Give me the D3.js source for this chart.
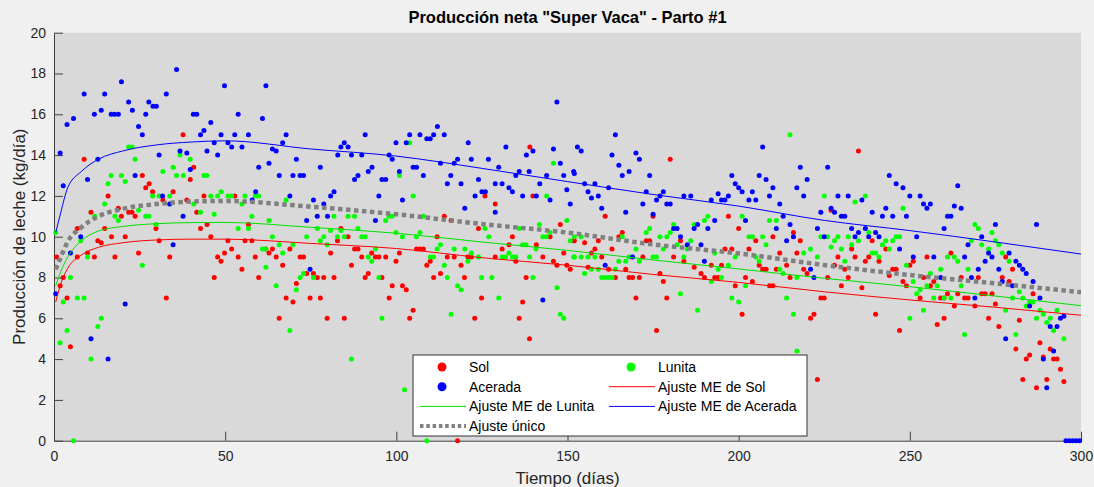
<!DOCTYPE html>
<html>
<head>
<meta charset="utf-8">
<script src="https://cdn.jsdelivr.net/npm/d3@7"></script>
<style>
  body { margin: 0; background: #f0f0f0; }
  svg { display: block; font-family: "Liberation Sans", Arial, sans-serif; }
</style>
</head>
<body>
<div id="chart"></div>
<script>
const solData = [
  [37.7,15.0],[8.8,13.8],[40.8,13.4],[39.8,12.8],[25.8,13.0],[27.8,12.6],[26.8,12.4],[28.8,12.2],[34.8,12.2],[15.8,12.0],[43.8,12.0],[31.8,11.8],[38.8,11.8],[10.8,11.2],[18.8,11.4],[21.8,11.2],[22.8,11.2],[41.7,11.2],[19.7,11.0],[23.7,11.0],[44.7,10.6],[14.8,10.4],[29.8,10.4],[42.8,10.4],[6.8,10.4],[12.8,9.8],[13.8,9.7],[16.8,10.0],[20.8,10.0],[30.7,9.8],[45.8,10.0],[50.8,9.8],[0.8,9.0],[6.8,9.0],[9.8,9.2],[11.8,9.0],[17.8,9.0],[24.7,9.2],[33.8,9.0],[47.8,9.0],[49.8,9.2],[48.8,8.8],[2.7,8.0],[1.8,7.6],[46.8,8.0],[3.8,7.0],[32.8,7.0],[4.8,4.6],
  [52.8,12.0],[51.9,9.4],[55.8,9.8],[57.8,9.8],[53.8,9.0],[54.9,8.4],[58.8,9.0],[59.8,8.0],[56.8,10.6],[61.9,9.4],[62.8,9.2],[63.8,9.4],[64.9,9.0],[66.8,8.6],[68.9,9.4],[65.8,6.0],[67.8,7.0],[69.8,6.8],[70.8,7.7],[71.9,9.0],[72.9,9.0],[73.8,8.2],[75.8,8.2],[76.9,8.0],[78.8,8.0],[74.8,7.0],[77.8,7.0],[79.8,6.0],[80.8,9.2],[81.8,8.0],[82.8,9.8],[83.8,10.4],[85.9,10.0],[84.8,6.0],[86.9,8.6],[87.8,9.4],[88.8,9.4],[89.9,9.0],[90.9,8.0],[91.8,8.2],[92.8,9.2],[93.9,9.0],[94.9,9.0],[95.8,8.0],[96.9,9.0],[97.9,7.0],[98.8,7.6],[99.9,8.8],[100.9,9.2],[101.8,7.6],
  [139.0,14.4],[125.9,12.0],[128.9,11.6],[139.9,12.0],[114.0,11.0],[116.0,10.8],[124.0,10.4],[105.9,9.4],[106.9,9.4],[107.9,9.4],[111.9,10.0],[108.9,8.6],[109.9,8.8],[114.9,9.0],[116.9,9.0],[118.9,8.6],[120.9,9.0],[121.9,9.0],[110.9,8.0],[112.9,8.2],[119.9,8.0],[124.9,7.0],[122.9,6.0],[128.9,9.0],[130.9,9.4],[132.9,9.6],[133.9,10.0],[134.9,8.8],[135.9,6.0],[136.9,6.8],[137.9,8.0],[138.9,5.0],[140.9,9.6],[142.8,9.0],[144.9,10.0],[145.9,8.8],[146.9,8.6],[147.9,10.6],[148.9,9.2],[149.8,8.6],[150.8,8.4],[151.8,9.8],[102.9,7.4],[104.9,6.4],[103.9,6.0],[117.9,0.0],
  [180,13.8],[161,11.0],[175,11.0],[197,11.0],[200,10.4],[165,10.0],[166,10.2],[152,9.8],[155,9.7],[159,9.8],[158,9.4],[173,9.8],[174,9.8],[163,9.4],[183,9.8],[157,9.2],[160,9.0],[172,9.0],[181,9.0],[184,8.8],[187,8.5],[189,8.2],[190,8.0],[192,8.6],[193,8.0],[194,8.0],[195,8.6],[196,9.4],[198,9.4],[199,7.6],[202,8.0],[203,9.4],[204,7.8],[156,8.5],[162,8.4],[164,8.0],[167,8.4],[168,8.0],[169,8.0],[171,8.0],[177,8.2],[178,7.8],[170,7.0],[179,7.0],[176,5.4],[201,6.2],
  [235,14.2],[227,11.3],[205,9.8],[210,10.0],[216,10.2],[218,9.8],[206,8.6],[207,8.4],[208,8.4],[209,7.6],[210,7.6],[211,8.4],[212,9.2],[214,8.6],[215,8.0],[217,9.2],[219,8.4],[220,8.2],[221,6.0],[222,6.2],[224,7.0],[225,7.0],[226,8.0],[223,3.0],[229,9.0],[228,8.6],[231,8.4],[232,8.0],[230,7.6],[233,9.4],[234,9.0],[236,7.5],[237,8.8],[238,9.0],[239,9.8],[240,6.2],[241,8.8],[243,9.4],[244,8.1],[245,8.4],[246,8.4],[247,5.4],[248,7.8],[249,7.6],[250,8.6],[251,8.8],[253,7.0],[255,9.0],
  [254,8.0],[256,7.6],[257,7.8],[259,7.0],[260,7.0],[258,5.7],[260,6.0],[261,7.2],[262,9.2],[263,6.6],[264,7.2],[265,8.0],[266,7.0],[267,7.0],[269,6.6],[270,8.0],[271,7.2],[272,7.2],[274,7.2],[273,6.0],[275,6.7],[276,5.6],[277,8.0],[278,9.0],[279,7.8],[280,8.4],[281,4.5],[282,5.9],[283,3.0],[284,4.0],[285,4.2],[286,7.2],[287,2.6],[288,4.8],[289,4.1],[290,3.0],[291,4.5],[292,4.0],[293,4.0],[294,3.5],[295,2.9]
];

const lunitaData = [
  [21.8,14.4],[22.8,14.4],[23.7,13.8],[36.8,14.0],[39.8,13.8],[34.8,13.4],[31.8,13.2],[16.7,13.0],[19.7,13.0],[35.8,13.0],[37.8,13.0],[43.8,13.0],[44.7,13.0],[20.8,12.7],[15.8,12.6],[28.8,12.0],[30.7,12.0],[33.8,12.0],[45.8,12.0],[47.8,12.0],[48.8,12.2],[50.8,12.0],[14.8,11.6],[40.8,11.6],[24.7,11.3],[11.9,11.0],[17.8,11.0],[26.8,11.0],[27.7,11.0],[42.8,11.2],[46.8,11.1],[18.8,10.8],[29.8,10.6],[7.8,9.8],[9.8,9.0],[25.8,8.6],[4.8,8.0],[2.7,6.8],[6.8,7.0],[8.8,7.0],[13.8,6.0],[12.8,5.6],[3.8,5.4],[1.8,4.8],[10.8,4.0],[5.7,0.0],[0.5,10.2],
  [51.9,12.0],[55.8,12.0],[58.8,12.0],[59.8,12.0],[54.9,11.6],[67.8,11.8],[57.8,11.0],[53.8,10.4],[56.8,10.4],[62.8,10.8],[63.8,10.0],[65.8,9.6],[69.8,9.6],[60.9,9.4],[61.9,9.4],[66.8,9.2],[61.9,8.5],[64.9,7.6],[68.9,5.4],[73.8,10.0],[76.9,10.4],[78.8,10.0],[77.8,9.8],[80.8,10.3],[81.8,11.0],[83.8,10.3],[82.8,10.0],[84.8,10.0],[79.8,9.6],[85.9,11.0],[87.8,11.0],[88.8,10.4],[89.9,10.0],[90.9,10.0],[71.9,8.0],[72.9,8.2],[70.8,7.4],[75.8,8.0],[86.9,4.0],[91.8,9.0],[92.8,8.8],[93.9,9.4],[94.9,8.0],[95.8,6.0],[96.9,10.8],[97.9,11.0],[98.8,11.0],[99.9,10.2],[100.9,13.0],[101.8,10.0],[102.4,2.5],
  [103.9,14.6],[145.9,13.6],[104.9,12.0],[143.9,12.0],[107.9,11.0],[105.9,10.0],[106.9,10.2],[112.9,9.6],[111.9,9.4],[109.9,9.0],[110.9,9.0],[114.0,8.6],[114.9,8.0],[116.9,9.4],[117.9,7.6],[118.9,7.4],[120.0,9.4],[120.9,8.8],[121.9,9.2],[124.0,9.0],[124.9,8.0],[127.9,8.0],[125.9,10.4],[127.0,10.0],[129.9,7.0],[130.9,9.0],[131.9,9.0],[132.9,9.2],[133.9,9.0],[134.9,9.0],[135.9,10.4],[136.9,9.6],[137.9,9.6],[138.9,9.0],[139.9,8.0],[140.8,9.4],[141.8,10.6],[142.8,10.0],[143.8,10.0],[144.9,10.2],[146.9,7.5],[147.9,6.2],[148.9,6.0],[149.8,10.8],[150.8,9.8],[151.8,9.0],[116.0,6.2],[108.9,0.0],
  [152,10.0],[154,10.0],[152,9.0],[156,9.0],[158,9.0],[154,9.0],[155,8.2],[157,8.4],[159,8.4],[160,8.0],[161,8.0],[162,8.0],[163,8.0],[164,8.4],[165,8.8],[167,8.8],[168,9.0],[166,10.0],[170,9.4],[171,8.8],[173,10.2],[174,10.4],[175,9.0],[176,9.0],[177,10.0],[178,9.4],[179,10.0],[180,10.2],[181,10.6],[182,9.6],[183,7.2],[184,9.0],[185,9.4],[186,9.8],[187,10.6],[188,6.4],[190,10.8],[191,11.0],[192,7.8],[193,9.2],[194,8.4],[195,8.0],[197,8.6],[198,7.0],[199,9.0],[200,6.8],[201,11.0],[202,7.6],[204,10.0],
  [215,15.0],[225,12.0],[237,12.0],[234,11.7],[248,11.4],[209,10.8],[211,10.8],[203,10.0],[207,10.0],[208,9.6],[205,9.0],[206,8.8],[212,8.4],[213,8.2],[214,7.0],[216,6.2],[217,8.0],[219,9.2],[221,9.4],[223,9.0],[224,10.0],[226,10.0],[227,9.5],[228,9.8],[229,10.0],[230,9.4],[231,8.8],[232,10.0],[233,9.6],[235,9.8],[238,10.2],[239,9.2],[240,9.2],[241,9.0],[242,9.6],[243,9.8],[244,9.4],[245,9.8],[246,10.0],[247,10.0],[249,8.6],[250,6.0],[251,7.8],[252,7.2],[253,7.4],[254,6.4],[255,7.6],[217,4.4],
  [256,8.2],[258,7.6],[257,7.0],[259,8.4],[260,7.0],[261,9.0],[263,9.0],[264,8.8],[262,7.0],[265,7.6],[266,5.2],[267,8.4],[268,9.8],[269,10.6],[270,10.4],[271,9.6],[273,9.4],[274,10.2],[275,9.8],[276,9.6],[277,9.2],[279,8.8],[278,6.4],[280,7.0],[281,5.2],[282,7.3],[283,7.0],[284,6.6],[285,6.8],[286,6.8],[287,6.0],[288,6.4],[289,6.2],[290,5.8],[291,6.0],[292,5.4],[293,6.4],[295,5.0]
];

const aceradaData = [
  [35.8,18.2],[19.7,17.6],[8.8,17.0],[14.8,17.0],[49.8,17.4],[32.8,17.0],[21.8,16.6],[27.7,16.6],[28.9,16.4],[29.9,16.4],[22.9,16.2],[13.8,16.2],[11.8,16.0],[16.7,16.0],[17.7,16.0],[18.8,16.0],[26.8,16.0],[40.7,16.0],[41.7,16.0],[5.7,15.8],[3.8,15.5],[45.8,15.6],[24.7,15.4],[43.8,15.2],[42.8,15.0],[48.8,15.0],[25.8,15.0],[46.8,14.6],[50.8,14.6],[1.8,14.1],[36.8,14.2],[38.8,14.1],[44.7,14.2],[47.8,14.0],[30.7,14.0],[12.8,13.8],[39.8,13.3],[23.7,13.0],[2.7,12.5],[9.8,12.8],[31.7,12.0],[33.8,11.6],[37.7,11.0],[7.8,10.0],[4.8,9.2],[34.8,9.6],[0.5,7.2],[20.8,6.7],[10.8,5.0],[15.8,4.0],
  [61.9,17.4],[53.8,16.0],[60.9,15.8],[52.8,15.0],[56.8,15.0],[67.8,15.0],[51.9,14.4],[54.9,14.4],[63.8,14.3],[64.9,14.2],[66.8,14.6],[70.8,13.8],[62.8,13.6],[59.8,13.4],[65.8,13.0],[69.8,13.0],[71.9,13.0],[72.9,13.0],[77.8,13.4],[84.8,14.6],[83.8,14.4],[85.9,14.4],[82.9,14.0],[86.9,14.0],[89.9,14.0],[90.9,15.0],[92.9,13.4],[91.8,13.2],[88.8,13.0],[87.8,12.8],[95.8,12.8],[96.9,12.8],[97.9,14.0],[98.8,13.8],[99.9,14.6],[100.9,13.2],[81.8,12.2],[80.8,12.0],[78.8,11.6],[75.8,11.8],[68.9,12.0],[58.9,12.2],[57.9,11.8],[94.9,12.0],[101.8,11.8],[76.9,11.0],[79.9,11.0],[73.8,10.8],[93.9,10.8],[74.8,8.4],
  [102.9,14.6],[103.9,15.0],[106.9,15.0],[108.9,14.8],[109.9,14.8],[110.9,15.0],[112.0,15.4],[114.0,15.0],[121.0,14.6],[132.0,14.4],[138.0,14.0],[139.9,14.2],[145.9,14.3],[146.9,16.6],[152.9,14.4],[104.9,13.4],[105.9,13.4],[107.9,13.0],[112.9,13.6],[116.9,13.6],[117.9,13.8],[115.9,13.0],[114.9,12.6],[118.9,12.6],[121.9,13.8],[124.0,12.8],[126.9,13.8],[129.9,13.4],[128.9,12.6],[130.9,12.6],[132.9,12.4],[133.9,12.2],[134.9,13.0],[135.9,13.2],[138.8,13.2],[141.9,12.6],[143.9,13.0],[147.9,13.6],[148.9,13.0],[151.8,13.2],[149.8,12.3],[123,12.0],[125,12.2],[126,12.2],[120.0,11.4],[128.9,11.2],[136.9,12.0],[140.9,12.0],[144.9,11.8],[150.8,11.6],[142.8,6.9],
  [152,13.1],[154,14.2],[164,15.0],[163,14.0],[165,13.5],[166,13.0],[168,13.2],[170,14.1],[171,13.8],[174,13.0],[155,12.6],[158,12.6],[156,12.2],[157,11.9],[159,12.0],[162,12.4],[160,11.4],[167,11.2],[172,11.6],[173,12.2],[175,11.1],[176,11.8],[177,12.0],[178,12.2],[179,11.6],[180,11.6],[181,10.4],[182,10.4],[183,10.0],[184,12.0],[186,12.0],[185,9.6],[187,10.4],[188,10.6],[189,9.6],[190,8.8],[191,10.4],[192,11.8],[193,10.8],[194,12.1],[195,11.8],[196,11.8],[197,12.0],[198,13.0],[199,12.6],[200,12.4],[201,12.2],[202,10.8],[204,12.2],[161,8.6],[169,9.0],
  [203,11.8],[205,11.8],[207,14.4],[206,13.0],[208,12.8],[209,12.0],[210,12.4],[212,11.6],[213,11.0],[211,10.4],[214,9.8],[215,10.6],[216,10.0],[217,12.4],[218,13.4],[219,12.0],[220,12.8],[221,8.4],[222,8.0],[223,10.4],[224,11.2],[225,10.0],[226,13.4],[227,11.4],[228,11.2],[229,12.0],[230,11.0],[231,11.0],[232,12.0],[233,10.4],[234,10.0],[235,10.2],[236,11.8],[237,10.4],[238,10.0],[239,11.2],[240,10.2],[241,10.0],[242,11.0],[243,11.4],[244,13.0],[245,11.0],[246,12.6],[247,9.4],[248,12.4],[249,11.0],[250,12.0],[252,10.0],[251,9.0],[253,12.0],[254,11.6],[255,11.4],
  [264,12.5],[256,11.6],[261,11.0],[262,11.0],[263,11.5],[265,11.4],[260,10.4],[257,9.0],[259,8.0],[266,9.0],[267,9.6],[271,10.0],[275,10.6],[287,10.6],[268,8.0],[270,8.4],[272,8.8],[273,9.2],[274,9.0],[276,8.4],[277,7.8],[279,9.2],[280,7.6],[281,8.8],[282,8.6],[283,8.4],[284,8.2],[285,6.6],[286,7.8],[288,7.0],[269,7.0],[278,5.0],[291,5.6],[293,5.6],[292,4.4],[289,4.0],[290,2.6],[294,6.0],[295,6.1],[295.6,0],[296.6,0],[297.6,0],[298.6,0],[299.6,0]
];

const fitDays     = [0.5, 2, 4, 8, 13, 20, 30, 40, 50, 75, 100, 125, 150, 175, 200, 225, 250, 275, 300];
const fitSol      = [6.8, 7.7, 8.45, 9.1, 9.48, 9.7, 9.84, 9.88, 9.88, 9.67, 9.42, 8.97, 8.6, 8.15, 7.76, 7.3, 6.9, 6.54, 6.15];
const fitLunita   = [7.6, 8.3, 9.0, 9.8, 10.28, 10.5, 10.64, 10.69, 10.7, 10.46, 10.17, 9.74, 9.33, 8.86, 8.42, 7.96, 7.55, 7.09, 6.62];
const fitAcerada  = [10.2, 11.2, 12.4, 13.2, 13.8, 14.2, 14.5, 14.64, 14.7, 14.3, 13.95, 13.35, 12.7, 12.07, 11.5, 10.8, 10.3, 9.74, 9.15];
const fitUnico    = [8.4, 9.0, 9.75, 10.46, 11.0, 11.36, 11.6, 11.72, 11.75, 11.47, 11.1, 10.62, 10.2, 9.62, 9.18, 8.61, 8.12, 7.71, 7.28];

const xTicks = [0, 50, 100, 150, 200, 250, 300];
const yTicks = [0, 2, 4, 6, 8, 10, 12, 14, 16, 18, 20];

const width = 1094, height = 487;
const plot = { left: 54, right: 1081, top: 32.7, bottom: 440.7 };

const xScale = d3.scaleLinear().domain([0, 300]).range([plot.left, plot.right]);
const yScale = d3.scaleLinear().domain([0, 20]).range([plot.bottom, plot.top]);

const svg = d3.select("#chart").append("svg")
  .attr("width", width).attr("height", height);

svg.append("rect").attr("width", width).attr("height", height).attr("fill", "#f0f0f0");
svg.append("rect")
  .attr("x", plot.left).attr("y", plot.top)
  .attr("width", plot.right - plot.left).attr("height", plot.bottom - plot.top)
  .attr("fill", "#d9d9d9");

// ejes (ticks hacia dentro, estilo MATLAB)
const bottomAxis = d3.axisBottom(xScale).tickValues(xTicks).tickSize(-9).tickPadding(10).tickSizeOuter(0);
const leftAxis = d3.axisLeft(yScale).tickValues(yTicks).tickSize(-9).tickPadding(16).tickSizeOuter(0);

const gx = svg.append("g").attr("transform", `translate(0, ${plot.bottom})`).call(bottomAxis);
const gy = svg.append("g").attr("transform", `translate(${plot.left}, 0)`).call(leftAxis);
[gx, gy].forEach(g => {
  g.selectAll("path, line").attr("stroke", "#404040");
  g.selectAll("text").attr("fill", "#262626").attr("font-size", 14)
    .attr("font-family", "Liberation Sans, Arial, sans-serif");
});
gy.selectAll("text").attr("dx", "8");

// puntos
const series = [
  { data: solData, color: "#ff0000" },
  { data: lunitaData, color: "#00ff00" },
  { data: aceradaData, color: "#0000ff" }
];
series.forEach(s => {
  svg.append("g").selectAll("circle")
    .data(s.data)
    .join("circle")
    .attr("cx", d => xScale(d[0]))
    .attr("cy", d => yScale(d[1]))
    .attr("r", 2.5)
    .attr("fill", s.color);
});

// curvas de ajuste
const line = d3.line()
  .x(d => xScale(d[0]))
  .y(d => yScale(d[1]))
  .curve(d3.curveMonotoneX);

const fits = [
  { vals: fitSol, color: "#ff0000", w: 1, dash: null },
  { vals: fitLunita, color: "#00e000", w: 1, dash: null },
  { vals: fitAcerada, color: "#0000ff", w: 1, dash: null },
  { vals: fitUnico, color: "#808080", w: 4.5, dash: "4.5,3.5" }
];
fits.forEach(f => {
  svg.append("path")
    .datum(fitDays.map((t, i) => [t, f.vals[i]]))
    .attr("d", line)
    .attr("fill", "none")
    .attr("stroke", f.color)
    .attr("stroke-width", f.w)
    .attr("stroke-dasharray", f.dash);
});

// leyenda
const legendItems = [
  { label: "Sol", type: "dot", color: "#ff0000" },
  { label: "Lunita", type: "dot", color: "#00ff00" },
  { label: "Acerada", type: "dot", color: "#0000ff" },
  { label: "Ajuste ME de Sol", type: "line", color: "#ff0000" },
  { label: "Ajuste ME de Lunita", type: "line", color: "#00e000" },
  { label: "Ajuste ME de Acerada", type: "line", color: "#0000ff" },
  { label: "Ajuste único", type: "dots", color: "#808080" }
];
const legend = svg.append("g").attr("transform", "translate(413, 355)");
legend.append("rect").attr("width", 394).attr("height", 81)
  .attr("fill", "#ffffff").attr("stroke", "#333").attr("stroke-width", 1);
legendItems.forEach((it, i) => {
  const col = i % 2, row = Math.floor(i / 2);
  const g = legend.append("g").attr("transform", `translate(${col * 189}, ${12 + row * 19.7})`);
  if (it.type === "dot") {
    g.append("circle").attr("cx", 29).attr("cy", 0).attr("r", 4.5).attr("fill", it.color);
  } else {
    g.append("line").attr("x1", 7).attr("x2", 53).attr("y1", 0).attr("y2", 0)
      .attr("stroke", it.color)
      .attr("stroke-width", it.type === "dots" ? 4 : 1)
      .attr("stroke-dasharray", it.type === "dots" ? "3.5,2.8" : null);
  }
  g.append("text").attr("x", 56).attr("y", 0).attr("dy", "0.36em")
    .attr("font-size", 14).attr("fill", "#000").text(it.label);
});

// títulos
svg.append("text").attr("x", (plot.left + plot.right) / 2).attr("y", 23)
  .attr("text-anchor", "middle").attr("font-size", 16.5).attr("font-weight", "bold")
  .attr("fill", "#000").text('Producción neta "Super Vaca" - Parto #1');
svg.append("text").attr("x", (plot.left + plot.right) / 2).attr("y", 484)
  .attr("text-anchor", "middle").attr("font-size", 17).attr("fill", "#262626")
  .text("Tiempo (días)");
svg.append("text")
  .attr("transform", `translate(25, ${(plot.top + plot.bottom) / 2}) rotate(-90)`)
  .attr("text-anchor", "middle").attr("font-size", 17).attr("fill", "#262626")
  .text("Producción de leche (kg/día)");
</script>
</body>
</html>
